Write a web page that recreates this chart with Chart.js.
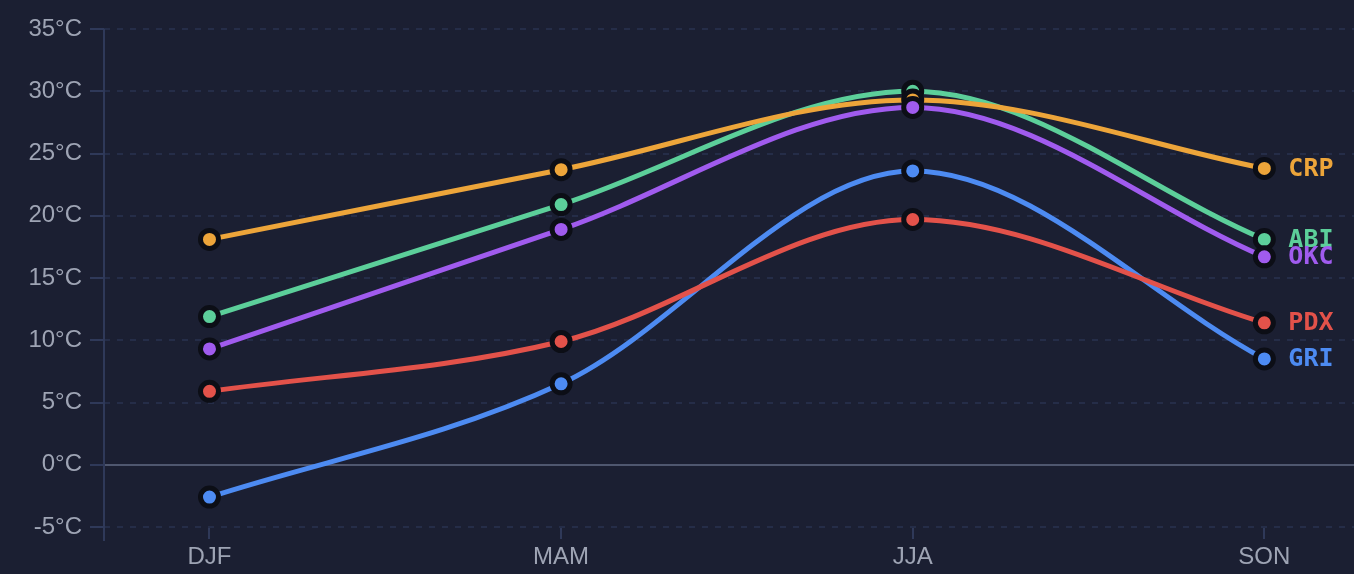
<!DOCTYPE html>
<html>
<head>
<meta charset="utf-8">
<script src="https://cdn.jsdelivr.net/npm/chart.js@4.4.1/dist/chart.umd.min.js"></script>
<style>
  html, body { margin: 0; padding: 0; background: #1b1f32; overflow: hidden; }
  canvas { display: block; }
</style>
</head>
<body>
<canvas id="chart" width="1354" height="574"></canvas>
<script>
// Datos
const seasons = ['DJF', 'MAM', 'JJA', 'SON'];
const yTicks = [-5, 0, 5, 10, 15, 20, 25, 30, 35];

const okc = [9.3, 18.9, 28.7, 16.7];
const crp = [18.1, 23.7, 29.3, 23.8];
const abi = [11.9, 20.9, 30.0, 18.1];
const pdx = [5.9, 9.9, 19.7, 11.4];
const gri = [-2.6, 6.5, 23.6, 8.5];

const series = [
    { name: 'OKC', values: okc, color: '#a05bee' },
    { name: 'CRP', values: crp, color: '#eda53a' },
    { name: 'ABI', values: abi, color: '#5ccf9a' },
    { name: 'PDX', values: pdx, color: '#e3524a' },
    { name: 'GRI', values: gri, color: '#4d8bf2' }
];

// Etiquetas al final de cada línea
const endLabels = {
    id: 'endLabels',
    afterDatasetsDraw(chart) {
        const ctx = chart.ctx;
        ctx.save();
        ctx.font = 'bold 25px "DejaVu Sans Mono", monospace';
        ctx.textBaseline = 'middle';
        ctx.textAlign = 'left';
        // dibujar en orden inverso para que el índice 0 quede arriba
        for (let i = chart.data.datasets.length - 1; i >= 0; i--) {
            const meta = chart.getDatasetMeta(i);
            const last = meta.data[meta.data.length - 1];
            ctx.fillStyle = chart.data.datasets[i].borderColor;
            ctx.fillText(chart.data.datasets[i].label, last.x + 24, last.y + 1);
        }
        ctx.restore();
    }
};

// Línea del eje Y (se prolonga un poco por debajo del área)
const yAxisLine = {
    id: 'yAxisLine',
    beforeDatasetsDraw(chart) {
        const { ctx, chartArea } = chart;
        ctx.save();
        ctx.strokeStyle = '#2f3959';
        ctx.lineWidth = 2;
        ctx.beginPath();
        ctx.moveTo(chartArea.left, chartArea.top);
        ctx.lineTo(chartArea.left, chartArea.bottom + 14);
        ctx.stroke();
        ctx.restore();
    }
};

const datasets = series.map(s => ({
    label: s.name,
    data: s.values.map((v, i) => ({ x: i, y: v })),
    borderColor: s.color,
    backgroundColor: s.color,
    borderWidth: 5,
    cubicInterpolationMode: 'monotone',
    pointRadius: 9,
    pointBorderWidth: 5,
    pointBorderColor: '#0c0e16',
    pointBackgroundColor: s.color,
    fill: false,
    clip: false
}));

const tickFont = { family: '"Liberation Sans", Arial, sans-serif', size: 24 };

new Chart(document.getElementById('chart'), {
    type: 'line',
    data: { datasets: datasets },
    options: {
        responsive: false,
        animation: false,
        layout: { autoPadding: false, padding: { top: 29, right: 0, left: 0, bottom: 0 } },
        plugins: {
            legend: { display: false },
            tooltip: { enabled: false }
        },
        scales: {
            x: {
                type: 'linear',
                min: -0.3,
                max: 3.255,
                afterBuildTicks: scale => {
                    scale.ticks = seasons.map((s, i) => ({ value: i }));
                },
                afterFit: scale => {
                    scale.height = 47;
                    scale.paddingLeft = 0;
                    scale.paddingRight = 0;
                },
                ticks: {
                    color: '#9ea4b4',
                    font: tickFont,
                    padding: 4,
                    callback: v => seasons[v]
                },
                grid: {
                    drawOnChartArea: false,
                    drawTicks: true,
                    tickLength: 12,
                    color: '#2f3959',
                    lineWidth: 2
                },
                border: { display: false }
            },
            y: {
                min: -5,
                max: 35,
                afterBuildTicks: scale => {
                    scale.ticks = yTicks.map(v => ({ value: v }));
                },
                afterFit: scale => { scale.width = 104; },
                ticks: {
                    color: '#9ea4b4',
                    font: tickFont,
                    padding: 8,
                    callback: v => v + '°C'
                },
                grid: {
                    tickLength: 14,
                    color: ctx => ctx.tick && ctx.tick.value === 0 ? '#4f576f' : '#252d48',
                    lineWidth: 2,
                    tickColor: '#2f3959'
                },
                border: { display: false, dash: ctx => ctx.tick && ctx.tick.value === 0 ? [] : [6, 7] }
            }
        }
    },
    plugins: [yAxisLine, endLabels]
});
</script>
</body>
</html>
